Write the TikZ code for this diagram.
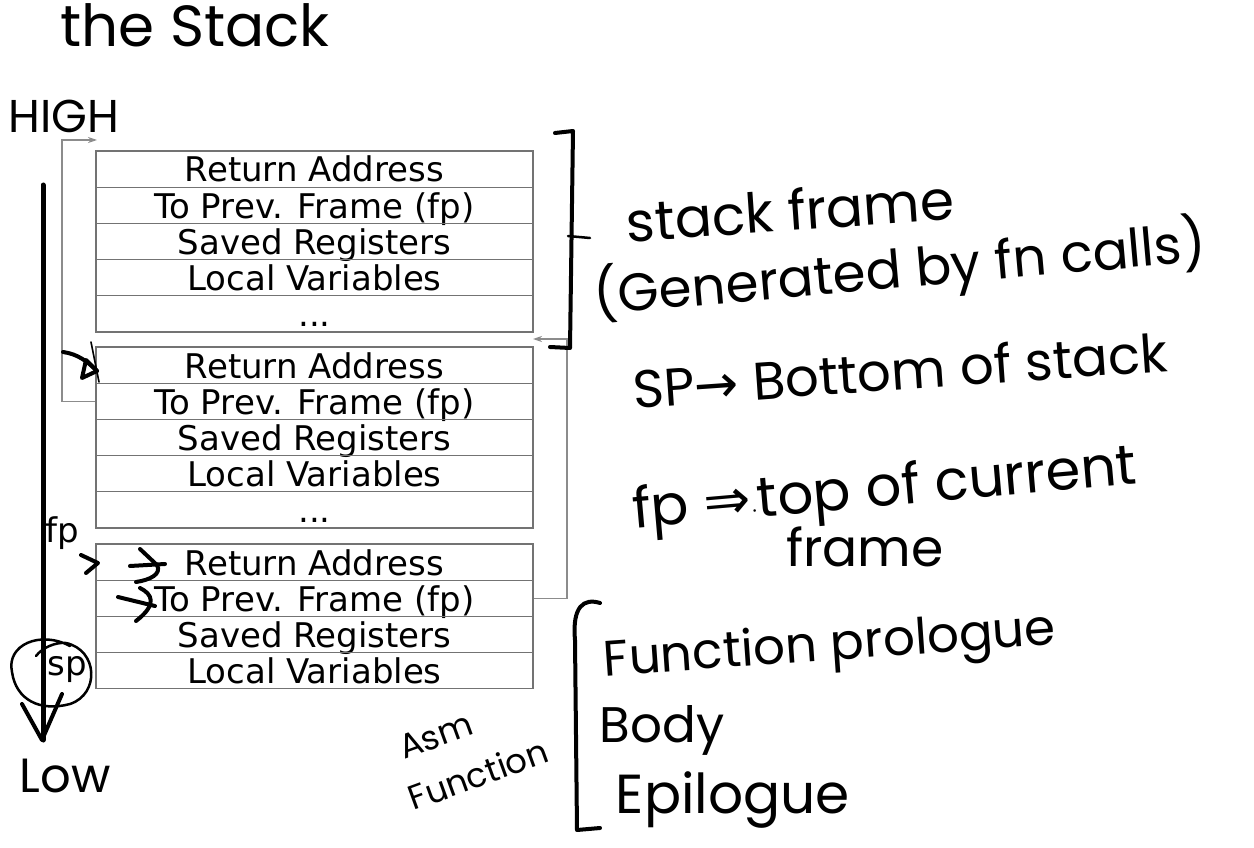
\documentclass[tikz,border=0pt]{standalone}
\usepackage{fontspec}
\setmainfont{DejaVu Sans}
\newfontfamily\hand{Poppins}
\newfontfamily\dejavu{DejaVu Sans}
\usetikzlibrary{arrows.meta}
\definecolor{boxgray}{gray}{0.45}
\definecolor{conngray}{gray}{0.55}
\begin{document}
\begin{tikzpicture}[x=1pt,y=-1pt,
  cell/.style={draw=boxgray, line width=1.1pt, minimum width=437pt, minimum height=36.2pt,
    text height=31pt, text depth=5.2pt, inner sep=0pt, font=\fontsize{34}{34}\selectfont},
  conn/.style={draw=conngray, line width=1.1pt},
  tip/.style={-{Stealth[length=9pt,width=6pt]}},
  ink/.style={line width=4pt, line cap=round, line join=round},
  inkthin/.style={line width=2.5pt, line cap=round, line join=round},
  hw/.style={inner sep=0pt, font=\hand\fontsize{#1}{#1}\selectfont},
  hw/.default=48,
  typed/.style={inner sep=0pt, font=\fontsize{34}{34}\selectfont}]
\useasboundingbox (0,0) rectangle (1254,848);
\fill[white] (0,0) rectangle (1254,848);

% frame 1
\node[cell] (a1) at (314.5,169.1) {Return Address};
\node[cell] (a2) at (314.5,205.3) {To Prev. Frame (fp)};
\node[cell] (a3) at (314.5,241.5) {Saved Registers};
\node[cell] (a4) at (314.5,277.7) {Local Variables};
\node[cell] (a5) at (314.5,313.9) {...};
% frame 2
\node[cell] (b1) at (314.5,365.1) {Return Address};
\node[cell] (b2) at (314.5,401.3) {To Prev. Frame (fp)};
\node[cell] (b3) at (314.5,437.5) {Saved Registers};
\node[cell] (b4) at (314.5,473.7) {Local Variables};
\node[cell] (b5) at (314.5,509.9) {...};
% frame 3
\node[cell] (c1) at (314.5,562.1) {Return Address};
\node[cell] (c2) at (314.5,598.3) {To Prev. Frame (fp)};
\node[cell] (c3) at (314.5,634.5) {Saved Registers};
\node[cell] (c4) at (314.5,670.7) {Local Variables};

% frame-pointer links
\coordinate (lt) at (62,140);
\coordinate (ltip) at (97,140);
\draw[conn,tip] (b2.west) -| (lt) -- (ltip);
\coordinate (rt) at (567,339);
\coordinate (rtip) at (533,339);
\draw[conn,tip] (c2.east) -| (rt) -- (rtip);

% typed labels
\node[typed] (fp) at (62,533) {fp};
\node[typed] (sp) at (67,670) {sp};

% handwritten title and extremes
\node[hw=58] (title) at (195,25) {the Stack};
\node[hw=46] (high) at (64,116) {HIGH};
\node[hw=48] (low) at (65,776) {Low};

% growth arrow
\coordinate (g1) at (43,185);
\coordinate (g2) at (43,740);
\draw[ink,line width=5pt] (g1) -- (g2);
\draw[ink] (22,704) -- (42,740) -- (62,694);

% circle round sp
\draw[inkthin] (70,646) .. controls (40,630) and (6,645) .. (12,672)
  .. controls (16,700) and (40,712) .. (70,704)
  .. controls (100,694) and (98,650) .. (66,643) .. controls (55,642) and (42,648) .. (36,656);

% hand marks at frame 2
\draw[inkthin,line width=1.6pt] (91,342) -- (99,382);
\draw[ink] (63,352) .. controls (78,354) and (88,362) .. (97,371);
\draw[ink] (86,360) -- (97,371) -- (82,378) -- cycle;

% hand marks at frame 3
\draw[ink] (81,555) -- (98,563) -- (86,573);
\draw[ink] (130,566) -- (165,564);
\draw[ink] (140,549) -- (157,565) .. controls (162,574) and (150,580) .. (136,582);
\draw[ink] (118,597) -- (155,606);
\draw[ink] (140,588) .. controls (152,594) and (158,604) .. (136,621);

% bracket: stack frame
\draw[ink] (555,133) -- (573,131) -- (570,348) -- (550,347);
\draw[inkthin] (568,236) -- (590,238);
\node[hw=55,rotate=4] (sf) at (790,210) {stack frame};
\node[hw=53,rotate=5] (gen) at (900,270) {(Generated by fn calls)};
\node[hw=53,rotate=4] (spnote) at (900,370) {SP{\dejavu →} Bottom of stack};
\node[hw=56,rotate=5] (fpnote) at (885,492) {fp {\dejavu ⇒}$\cdot$top of current};
\node[hw=52] (fpnote2) at (865,547) {frame};

% bracket: asm function
\draw[ink] (600,603) .. controls (584,598) and (572,606) .. (575,640) -- (577,830) -- (600,828);
\node[hw=50,rotate=4] (pro) at (830,648) {Function prologue};
\node[hw=50] (body) at (662,730) {Body};
\node[hw=55] (epi) at (733,800) {Epilogue};
\node[hw=34,rotate=20] (asm) at (436,736) {Asm};
\node[hw=34,rotate=20] (asmfn) at (478,774) {Function};
\end{tikzpicture}
\end{document}
